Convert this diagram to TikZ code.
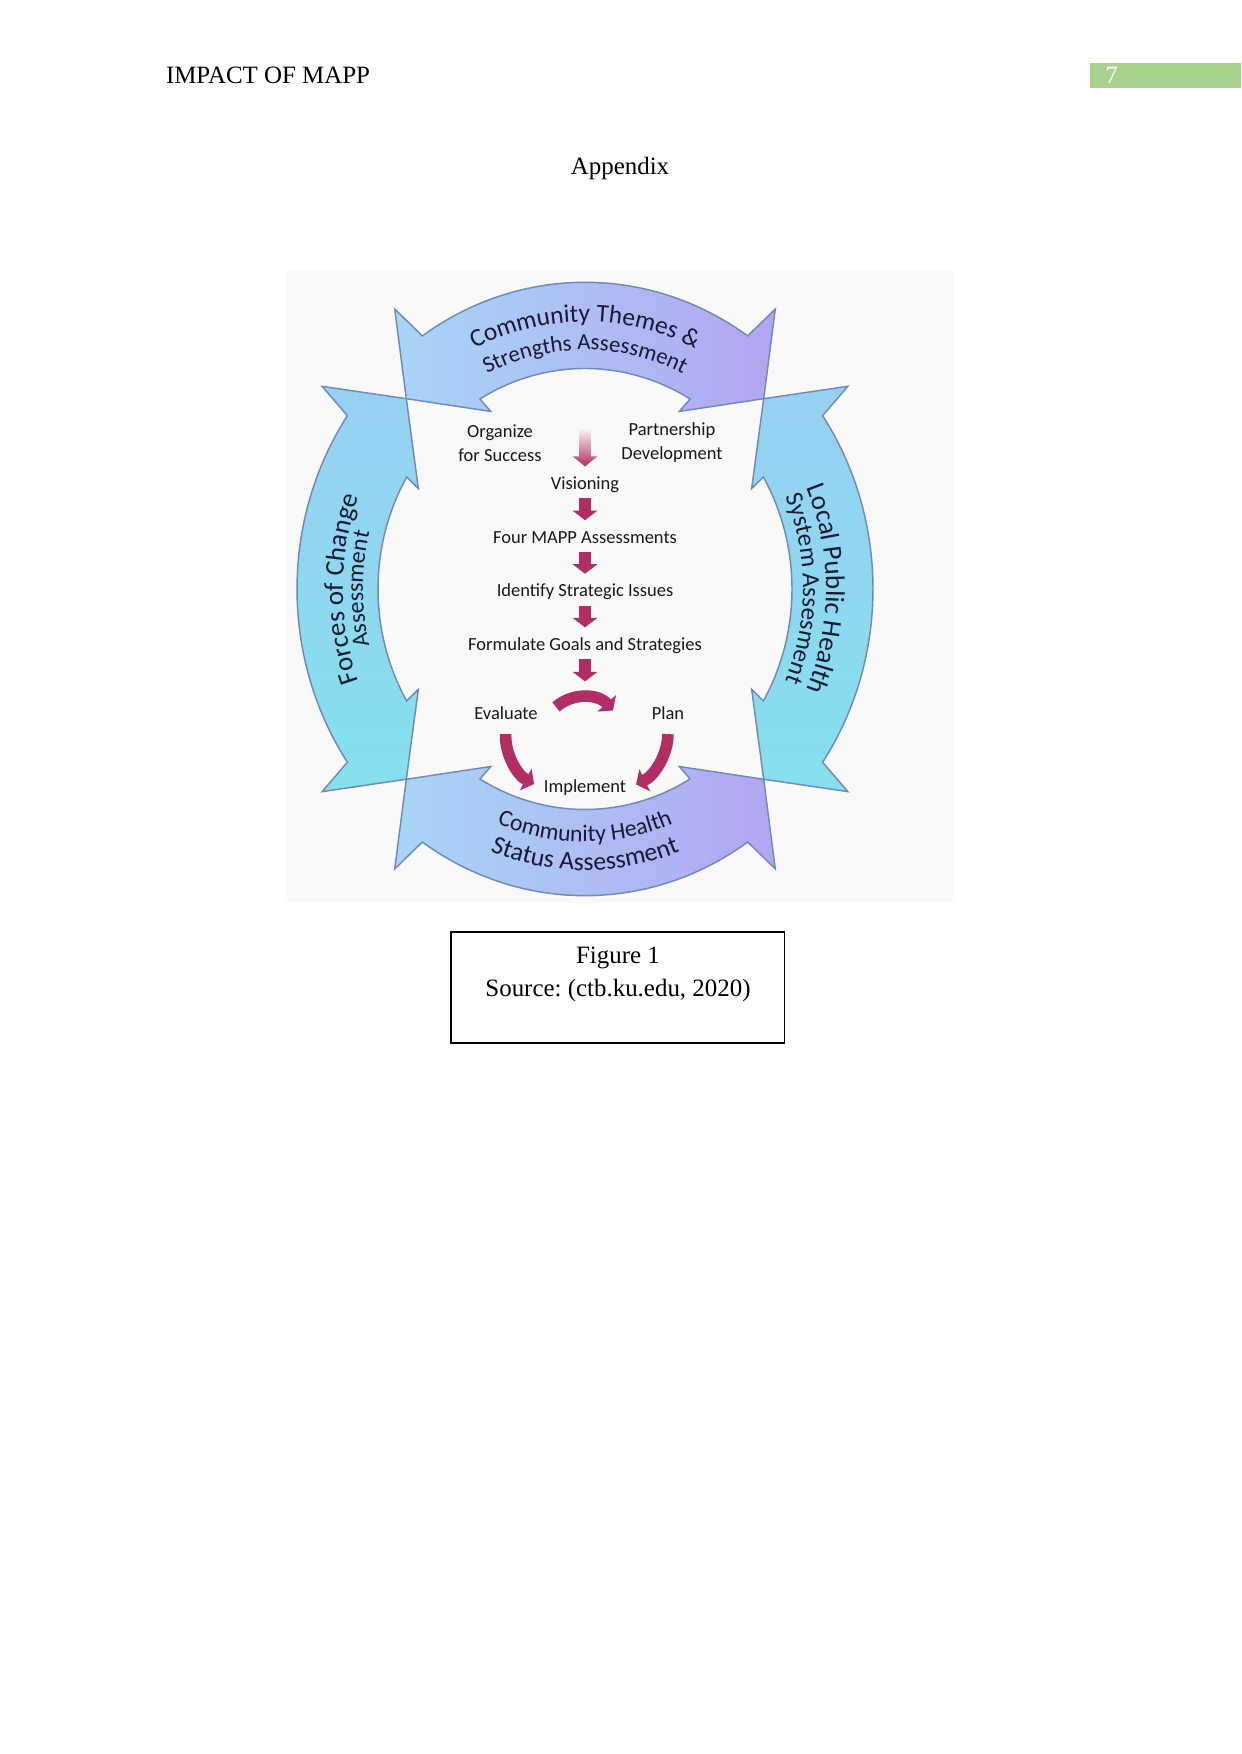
\documentclass[tikz,border=0pt]{standalone}
\usepackage{fontspec}
\setmainfont{Liberation Serif}
\newfontfamily\calfont{Carlito}
\usetikzlibrary{arrows.meta, positioning, decorations.text}
\frenchspacing

\definecolor{mappink}{RGB}{178,45,98}
\definecolor{bandsky}{RGB}{168,214,245}
\definecolor{bandlav}{RGB}{178,166,242}
\definecolor{bandside}{RGB}{152,208,242}
\definecolor{bandcyan}{RGB}{132,224,236}
\definecolor{bandline}{RGB}{112,138,184}
\definecolor{bandtext}{RGB}{24,26,52}
\definecolor{stepgray}{RGB}{24,24,24}
\definecolor{pagegreen}{RGB}{169,209,142}
\definecolor{panelgray}{RGB}{249,249,249}

\newcommand{\bandfont}[1]{\calfont\fontsize{#1}{#1}\selectfont}
% one band of the ring, #1 = middle angle
\newcommand{\bandpath}[1]{%
  (#1-34.4:288 and 306.7) arc[start angle=#1-34.4, end angle=#1+34.4, x radius=288, y radius=306.7]
  -- (#1+35.9:324.5 and 345.6) -- (#1+45:252.7 and 269.1)
  -- (#1+29.5:191.5 and 204) -- (#1+30.5:207 and 220.5)
  arc[start angle=#1+30.5, end angle=#1-30.5, x radius=207, y radius=220.5]
  -- (#1-29.5:191.5 and 204) -- (#1-45:252.7 and 269.1)
  -- (#1-35.9:324.5 and 345.6) -- cycle}

\begin{document}
\begin{tikzpicture}[x=0.016922cm, y=0.016922cm,
    pagetext/.style={font=\fontsize{12}{14.4}\selectfont, inner sep=0},
    stepnode/.style={font=\calfont\fontsize{8.9}{11.5}\selectfont, text=stepgray, inner sep=1pt, text height=6.5pt, text depth=2pt},
    twoline/.style={font=\calfont\fontsize{8.9}{11.5}\selectfont, text=stepgray, inner sep=1pt, align=center},
    flowarrow/.style={line width=5.6pt, draw=mappink, -{Triangle[width=11.7pt, length=4.6pt]}, shorten <=1pt, shorten >=3.4pt},
    cyclearrow/.style={line width=5.6pt, draw=mappink, -{Triangle[width=11.7pt, length=4.6pt]}},
    band/.style={draw=bandline, line width=0.7pt},
    hband/.style={left color=bandsky, right color=bandlav},
    vband/.style={top color=bandside, bottom color=bandcyan},
    bandtxt/.style={decorate, decoration={text along path, text align=center, text color=bandtext, text={#1}}}
]
    \useasboundingbox (0,0) rectangle (1241,1754);
    \fill[white] (0,0) rectangle (1241,1754);

    % running head
    \node[pagetext, anchor=base west] (head) at (165.6,1670) {IMPACT OF MAPP};
    \fill[pagegreen] (1090,1665.6) rectangle (1241,1691.3);
    \node[pagetext, anchor=base west, text=white] (pagenum) at (1105,1670) {7};
    \node[pagetext, anchor=base] (appendix) at (620,1579.4) {Appendix};

    % picture panel
    \fill[panelgray] (285.4,851) rectangle (954.5,1483.2);

    % the four assessments
    \begin{scope}[shift={(585,1165)}]
        \foreach \ang in {90,270} \path[band, hband] \bandpath{\ang};
        \foreach \ang in {0,180} \path[band, vband] \bandpath{\ang};

        \path[bandtxt={|\bandfont{12.2}|Community Themes {\&}}]
            (150:251 and 267.3) arc[start angle=150, end angle=30, x radius=251, y radius=267.3];
        \path[bandtxt={|\bandfont{11}|Strengths Assessment}]
            (150:224.4 and 239) arc[start angle=150, end angle=30, x radius=224.4, y radius=239];
        \path[bandtxt={|\bandfont{11.4}|Community Health}]
            (210:237.3 and 252.7) arc[start angle=210, end angle=330, x radius=237.3, y radius=252.7];
        \path[bandtxt={|\bandfont{12.4}|Status Assessment}]
            (210:264 and 281.2) arc[start angle=210, end angle=330, x radius=264, y radius=281.2];
        \path[bandtxt={|\bandfont{13}|Forces of Change}]
            (225:242 and 257.7) arc[start angle=225, end angle=135, x radius=242, y radius=257.7];
        \path[bandtxt={|\bandfont{11.5}|Assessment}]
            (225:222 and 236.4) arc[start angle=225, end angle=135, x radius=222, y radius=236.4];
        \path[bandtxt={|\bandfont{13}|Local Public Health}]
            (45:241 and 256.7) arc[start angle=45, end angle=-45, x radius=241, y radius=256.7];
        \path[bandtxt={|\bandfont{12}|System Assesment}]
            (45:218 and 232.2) arc[start angle=45, end angle=-45, x radius=218, y radius=232.2];
    \end{scope}

    % MAPP steps
    \node[twoline] (organize) at (500,1311) {Organize\\for Success};
    \node[twoline] (partner) at (672,1311) {Partnership\\Development};
    \node[stepnode] (vis) at (585,1269) {Visioning};
    \node[stepnode, below=14.9pt of vis] (four) {Four MAPP Assessments};
    \node[stepnode, below=14.9pt of four] (issues) {Identify Strategic Issues};
    \node[stepnode, below=14.9pt of issues] (goals) {Formulate Goals and Strategies};
    \node[stepnode] (evaluate) at (506,1039.5) {Evaluate};
    \node[stepnode] (plan) at (668,1039.5) {Plan};
    \node[stepnode] (implement) at (585,966) {Implement};

    \coordinate (fadetop) at (585,1326);
    \shade[top color=panelgray, bottom color=mappink] (fadetop) ++(-5.85,0) -- ++(0,-28.5) -- ++(-6.35,0)
        -- ++(12.2,-10) -- ++(12.2,10) -- ++(-6.35,0) -- ++(0,28.5) -- cycle;

    \draw[flowarrow] (vis) -- (four);
    \draw[flowarrow] (four) -- (issues);
    \draw[flowarrow] (issues) -- (goals);
    \coordinate (cycletop) at (585,1065.5);
    \draw[flowarrow] (goals) -- (cycletop);

    % plan - implement - evaluate
    \coordinate (arcL) at (556,1047);
    \coordinate (arcR) at (613,1043.5);
    \draw[cyclearrow] (arcL) to[bend left=45] (arcR);
    \draw[cyclearrow, shorten <=4pt, shorten >=4pt] (plan.south) to[bend left=32] (implement.east);
    \draw[cyclearrow, shorten <=4pt, shorten >=4pt] (evaluate.south) to[bend right=32] (implement.west);

    % caption
    \draw[line width=0.5pt] (451,711) rectangle (784.5,822);
    \node[pagetext, anchor=base] (figno) at (618,790.5) {Figure 1};
    \node[pagetext, anchor=base] (source) at (618,757) {Source: (ctb.ku.edu, 2020)};
\end{tikzpicture}
\end{document}
